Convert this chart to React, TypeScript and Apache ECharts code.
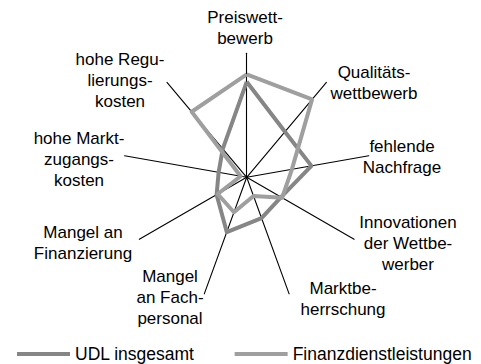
import React, { useEffect, useRef } from "react";
import * as echarts from "echarts";

// Axes in clockwise order starting at the top
const categories: string[] = [
  "Preiswett-\nbewerb",
  "Qualitäts-\nwettbewerb",
  "fehlende\nNachfrage",
  "Innovationen\nder Wettbe-\nwerber",
  "Marktbe-\nherrschung",
  "Mangel\nan Fach-\npersonal",
  "Mangel an\nFinanzierung",
  "hohe Markt-\nzugangs-\nkosten",
  "hohe Regu-\nlierungs-\nkosten",
];

const seriesNames: string[] = ["UDL insgesamt", "Finanzdienstleistungen"];
const udlValues: number[] = [77, 48, 53, 32, 35, 47, 28, 23, 30];
const finanzValues: number[] = [83, 82, 37, 33, 16, 30, 27, 5, 69];
const axisMax = 100;

// label anchor positions (layout only)
const labelPos: [number, number][] = [
  [245, 27.5],
  [374, 83],
  [402, 157],
  [408, 243],
  [343, 298.5],
  [170, 297.5],
  [83, 242.5],
  [79, 159],
  [120, 80],
];

const FONT = "'Liberation Sans', Arial, sans-serif";

// ECharts radar places indicators counter-clockwise; reorder for clockwise
const toCCW = <T,>(arr: T[]): T[] => [arr[0], ...arr.slice(1).reverse()];

export default function App() {
  const ref = useRef<HTMLDivElement>(null);
  useEffect(() => {
    if (!ref.current) return;
    const chart = echarts.init(ref.current, undefined, { renderer: "svg" });
    chart.setOption({
      animation: false,
      backgroundColor: "#fff",
      legend: {
        data: seriesNames,
        left: 12,
        top: 340,
        icon: "rect",
        itemWidth: 53,
        itemHeight: 4,
        itemGap: 40,
        textStyle: { fontSize: 17.5, color: "#000", fontFamily: FONT },
      },
      radar: {
        center: [246.7, 177.3],
        radius: 124,
        startAngle: 90,
        shape: "polygon",
        splitNumber: 1,
        indicator: toCCW(categories).map((c) => ({ name: c, min: 0, max: axisMax })),
        axisName: { show: false },
        splitLine: { show: false },
        splitArea: { show: false },
        axisLine: { lineStyle: { color: "#000", width: 1.1 } },
        axisTick: { show: false },
        axisLabel: { show: false },
      },
      graphic: categories.map((c, i) => ({
        type: "text",
        x: labelPos[i][0],
        y: labelPos[i][1],
        style: {
          text: c,
          fontSize: 17,
          fontFamily: FONT,
          fill: "#000",
          align: "center",
          verticalAlign: "middle",
          lineHeight: 21,
        },
      })),
      series: [
        {
          type: "radar",
          symbol: "none",
          data: [
            {
              name: seriesNames[0],
              value: toCCW(udlValues),
              lineStyle: { color: "#868686", width: 4 },
              itemStyle: { color: "#868686" },
            },
            {
              name: seriesNames[1],
              value: toCCW(finanzValues),
              lineStyle: { color: "#9f9f9f", width: 4 },
              itemStyle: { color: "#9f9f9f" },
            },
          ],
        },
      ],
    });
    return () => chart.dispose();
  }, []);
  return (
    <div
      ref={ref}
      style={{ position: "fixed", left: 0, top: 0, width: 481, height: 364 }}
    />
  );
}
